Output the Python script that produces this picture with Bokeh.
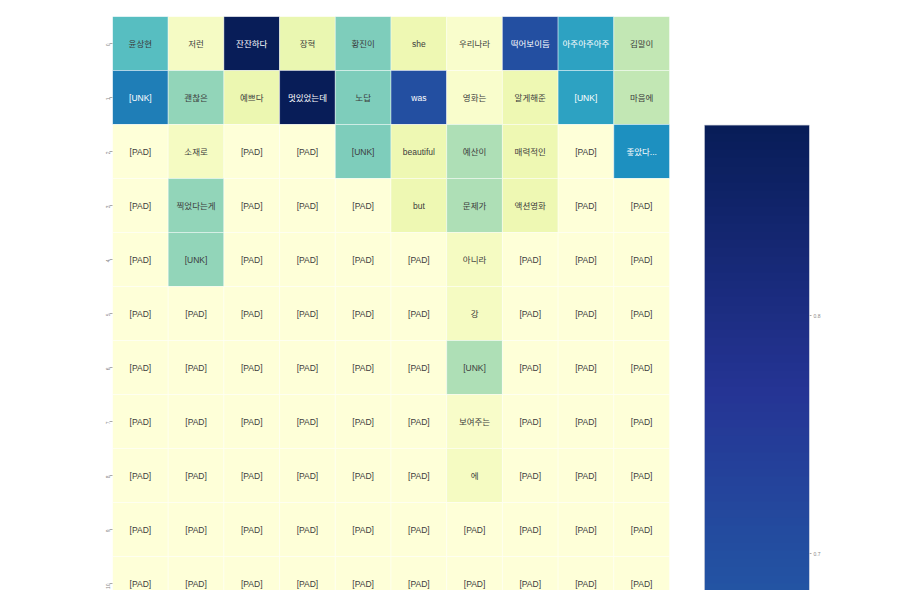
import numpy as np
from bokeh.plotting import figure
from bokeh.models import ColumnDataSource, Range1d, FixedTicker, LinearColorMapper, LinearAxis
from bokeh.core.properties import value
from bokeh.embed import file_html
from bokeh.resources import INLINE

# ---------------- data ----------------
row_labels = ["0", "1", "2", "3", "4", "5", "6", "7", "8", "9", "10"]

tokens = [
    ["윤상현", "저런", "잔잔하다", "장혁", "황진이", "she", "우리나라", "떡어보이듬", "아주아주아주", "김말이"],
    ["[UNK]", "괜찮은", "예쁘다", "멋있었는데", "노답", "was", "영화는", "알게해준", "[UNK]", "마음에"],
    ["[PAD]", "소재로", "[PAD]", "[PAD]", "[UNK]", "beautiful", "예산이", "매력적인", "[PAD]", "좋았다..."],
    ["[PAD]", "찍었다는게", "[PAD]", "[PAD]", "[PAD]", "but", "문제가", "액션영화", "[PAD]", "[PAD]"],
    ["[PAD]", "[UNK]", "[PAD]", "[PAD]", "[PAD]", "[PAD]", "아니라", "[PAD]", "[PAD]", "[PAD]"],
    ["[PAD]", "[PAD]", "[PAD]", "[PAD]", "[PAD]", "[PAD]", "강", "[PAD]", "[PAD]", "[PAD]"],
    ["[PAD]", "[PAD]", "[PAD]", "[PAD]", "[PAD]", "[PAD]", "[UNK]", "[PAD]", "[PAD]", "[PAD]"],
    ["[PAD]", "[PAD]", "[PAD]", "[PAD]", "[PAD]", "[PAD]", "보여주는", "[PAD]", "[PAD]", "[PAD]"],
    ["[PAD]", "[PAD]", "[PAD]", "[PAD]", "[PAD]", "[PAD]", "에", "[PAD]", "[PAD]", "[PAD]"],
    ["[PAD]", "[PAD]", "[PAD]", "[PAD]", "[PAD]", "[PAD]", "[PAD]", "[PAD]", "[PAD]", "[PAD]"],
    ["[PAD]", "[PAD]", "[PAD]", "[PAD]", "[PAD]", "[PAD]", "[PAD]", "[PAD]", "[PAD]", "[PAD]"],
]

weights = [
    [0.40, 0.06, 0.88, 0.12, 0.33, 0.105, 0.035, 0.70, 0.50, 0.23],
    [0.59, 0.30, 0.115, 0.88, 0.33, 0.70, 0.035, 0.105, 0.50, 0.23],
    [0.005, 0.065, 0.005, 0.005, 0.33, 0.105, 0.26, 0.105, 0.005, 0.55],
    [0.005, 0.30, 0.005, 0.005, 0.005, 0.105, 0.26, 0.105, 0.005, 0.005],
    [0.005, 0.30, 0.005, 0.005, 0.005, 0.005, 0.065, 0.005, 0.005, 0.005],
    [0.005, 0.005, 0.005, 0.005, 0.005, 0.005, 0.065, 0.005, 0.005, 0.005],
    [0.005, 0.005, 0.005, 0.005, 0.005, 0.005, 0.26, 0.005, 0.005, 0.005],
    [0.005, 0.005, 0.005, 0.005, 0.005, 0.005, 0.045, 0.005, 0.005, 0.005],
    [0.005, 0.005, 0.005, 0.005, 0.005, 0.005, 0.065, 0.005, 0.005, 0.005],
    [0.005, 0.005, 0.005, 0.005, 0.005, 0.005, 0.005, 0.005, 0.005, 0.005],
    [0.005, 0.005, 0.005, 0.005, 0.005, 0.005, 0.005, 0.005, 0.005, 0.005],
]

vmin, vmax = 0.0, 0.88
cbar_ticks = [0.0, 0.1, 0.2, 0.3, 0.4, 0.5, 0.6, 0.7, 0.8]

# ---------------- palette (YlGnBu, continuous) ----------------
anchors = ["#ffffd9", "#edf8b1", "#c7e9b4", "#7fcdbb", "#41b6c4",
           "#1d91c0", "#225ea8", "#253494", "#081d58"]
rgb = np.array([[int(h[i:i + 2], 16) for i in (1, 3, 5)] for h in anchors], float)
pos = np.linspace(0, 1, len(anchors))
t = np.linspace(0, 1, 256)
pal_rgb = np.stack([np.interp(t, pos, rgb[:, k]) for k in range(3)], axis=1)
palette = ["#%02x%02x%02x" % tuple(int(round(c)) for c in px) for px in pal_rgb]
mapper = LinearColorMapper(palette=palette, low=vmin, high=vmax)


def lum(px):
    c = px / 255.0
    c = np.where(c <= 0.03928, c / 12.92, ((c + 0.055) / 1.055) ** 2.4)
    return 0.2126 * c[0] + 0.7152 * c[1] + 0.0722 * c[2]


xs, ys, vals, txt, tcol = [], [], [], [], []
for r, (trow, wrow) in enumerate(zip(tokens, weights)):
    for c, (tk, w) in enumerate(zip(trow, wrow)):
        xs.append(c + 0.5)
        ys.append(r + 0.5)
        vals.append(w)
        txt.append(tk)
        idx = int(np.clip((w - vmin) / (vmax - vmin) * 255, 0, 255))
        tcol.append("#3c3c3c" if lum(pal_rgb[idx]) > 0.408 else "#ffffff")

src = ColumnDataSource(dict(x=xs, y=ys, v=vals, t=txt, tc=tcol))

FONT = "Liberation Sans, Noto Sans CJK KR"

# geometry (pixels): frame from x=113..810, y=17..591 on the page
ROW_PX = 54.0
COL_PX = 55.7
FRAME_W = 697
FRAME_H = 574
x_end = FRAME_W / COL_PX
y_end = FRAME_H / ROW_PX

p = figure(width=849, height=590, output_backend="svg", toolbar_location=None,
           x_range=Range1d(0, x_end), y_range=Range1d(y_end, 0),
           x_axis_location=None, min_border_left=112, min_border_right=40,
           min_border_top=16, min_border_bottom=0)
p.outline_line_color = None
p.grid.visible = False
p.background_fill_color = "white"
p.border_fill_color = "white"

p.rect(x="x", y="y", width=1, height=1, source=src,
       fill_color={"field": "v", "transform": mapper},
       line_color="white", line_width=0.6, line_alpha=0.7)
p.text(x="x", y="y", text="t", source=src, text_color="tc",
       text_align="center", text_baseline="middle",
       text_font=value(FONT), text_font_size="8.5px")

ya = p.yaxis[0]
ya.ticker = FixedTicker(ticks=[i + 0.5 for i in range(len(row_labels))])
ya.major_label_overrides = {i + 0.5: lab for i, lab in enumerate(row_labels)}
ya.major_label_orientation = np.pi / 2
ya.major_label_text_font_size = "5px"
ya.major_label_text_color = "#888888"
ya.major_label_standoff = 2
ya.axis_line_color = None
ya.major_tick_line_color = "#aaaaaa"
ya.major_tick_out = 3
ya.major_tick_in = 0
ya.minor_tick_line_color = None

# ---------------- colorbar (same figure, own y range) ----------------
# 0.1 in value spans 238 px; 0.8 sits at page y=316
cb_top = 0.8 + (316 - 17) / 2380.0
cb_bot = 0.8 - (591 - 316) / 2380.0
p.extra_y_ranges = {"cb": Range1d(cb_bot, cb_top)}
cb_x0 = (705 - 113) / COL_PX
cb_x1 = x_end
grad = np.linspace(vmin, vmax, 1024).reshape(1024, 1)
p.image(image=[grad], x=cb_x0, y=vmin, dw=cb_x1 - cb_x0, dh=vmax - vmin,
        color_mapper=mapper, y_range_name="cb")
p.quad(left=[cb_x0], right=[cb_x1], bottom=[vmin], top=[vmax], y_range_name="cb",
       fill_color=None, line_color="#c8cbd6", line_width=0.6)

ax = LinearAxis(y_range_name="cb", ticker=FixedTicker(ticks=cbar_ticks))
ax.axis_line_color = None
ax.major_tick_line_color = "#aaaaaa"
ax.major_tick_out = 2
ax.major_tick_in = 0
ax.minor_tick_line_color = None
ax.major_label_text_font_size = "5px"
ax.major_label_text_color = "#888888"
ax.major_label_standoff = 2
p.add_layout(ax, "right")

open("out.html", "w").write(file_html(p, INLINE))
